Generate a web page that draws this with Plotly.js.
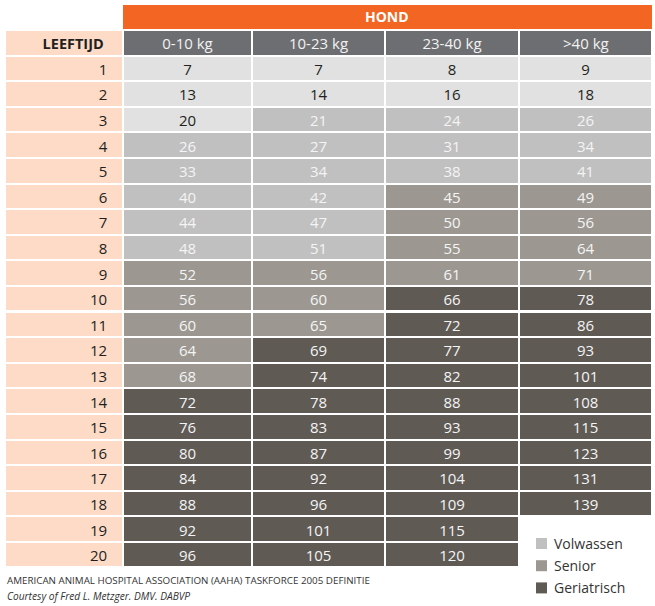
<!DOCTYPE html>
<html><head><meta charset="utf-8">
<script src="https://cdn.plot.ly/plotly-3.0.1.min.js"></script>
<style>html,body{margin:0;padding:0;background:#fff}</style>
</head><body><div id="chart" style="width:655px;height:606px"></div>
<script>
const groupTitle = "HOND";
const ageLabel = "LEEFTIJD";
const columns = ["0-10 kg", "10-23 kg", "23-40 kg", ">40 kg"];
const ages = [1,2,3,4,5,6,7,8,9,10,11,12,13,14,15,16,17,18,19,20];
const w0_10  = [7,13,20,26,33,40,44,48,52,56,60,64,68,72,76,80,84,88,92,96];
const w10_23 = [7,14,21,27,34,42,47,51,56,60,65,69,74,78,83,87,92,96,101,105];
const w23_40 = [8,16,24,31,38,45,50,55,61,66,72,77,82,88,93,99,104,109,115,120];
const w40p   = [9,18,26,34,41,49,56,64,71,78,86,93,101,108,115,123,131,139,null,null];
// stage per cell: J = jong, V = volwassen, S = senior, G = geriatrisch, "" = leeg
const stage0_10  = "JJJVVVVVSSSSSGGGGGGG".split("");
const stage10_23 = "JJVVVVVVSSSGGGGGGGGG".split("");
const stage23_40 = "JJVVVSSSSGGGGGGGGGGG".split("");
const stage40p   = ["J","J","V","V","V","S","S","S","S","G","G","G","G","G","G","G","G","G","",""];
const legendLabels = ["Volwassen", "Senior", "Geriatrisch"];
const footnote1 = "AMERICAN ANIMAL HOSPITAL ASSOCIATION (AAHA) TASKFORCE 2005 DEFINITIE";
const footnote2 = "Courtesy of Fred L. Metzger. DMV. DABVP";

const fillOf = {J:"#e1e1e1", V:"#c1c0c0", S:"#9c9891", G:"#5f5a54", "":"#ffffff"};
const textOf = {J:"#231f20", V:"#f4f4f4", S:"#f4f4f4", G:"#f4f4f4", "":"#ffffff"};
const peach = "#fddbc7";
const headGray = "#6d6e71";

const values = [w0_10, w10_23, w23_40, w40p].map(a => a.map(v => v === null ? "" : String(v)));
const stages = [stage0_10, stage10_23, stage23_40, stage40p];

// header labels containing markup characters are drawn as annotations (table would enlarge the row)
const tableHeads = columns.map(c => /[<>&]/.test(c) ? "" : c);

const W = 655, H = 606;
const pad = "\u00a0\u00a0";
const trace = {
  type: "table",
  domain: {x: [5/W, 652/W], y: [0.02, 1 - 30/H]},
  columnwidth: [118, 129, 133, 134, 133],
  header: {
    values: [ageLabel].concat(tableHeads),
    suffix: [pad + "\u00a0", "", "", "", ""],
    align: ["right","center","center","center","center"],
    height: 25.5,
    fill: {color: [peach, headGray, headGray, headGray, headGray]},
    line: {color: "#ffffff", width: 2},
    font: {family: "Open Sans, sans-serif", size: [14.5,15,15,15,15],
           color: ["#231f20","#f2f2f2","#f2f2f2","#f2f2f2","#f2f2f2"],
           weight: [700,400,400,400,400]}
  },
  cells: {
    values: [ages.map(String)].concat(values),
    suffix: [pad, "", "", "", ""],
    align: ["right","center","center","center","center"],
    height: 25.6,
    fill: {color: [ages.map(() => peach)].concat(stages.map(s => s.map(k => fillOf[k])))},
    line: {color: "#ffffff", width: 2},
    font: {family: "Open Sans, sans-serif", size: 15,
           color: [ages.map(() => "#231f20")].concat(stages.map(s => s.map(k => textOf[k])))}
  }
};

const shapes = [
  {type:"rect", xref:"paper", yref:"paper", x0:123/W, x1:652/W, y0:1-29/H, y1:1-5/H,
   fillcolor:"#f26522", line:{width:0}, layer:"below"}
];
const annotations = [
  {text:"<b>"+groupTitle+"</b>", xref:"paper", yref:"paper", x:387/W, y:1-17/H, showarrow:false,
   xanchor:"center", yanchor:"middle", font:{family:"Open Sans, sans-serif", size:14, color:"#ffffff"}},
  {text:footnote1, xref:"paper", yref:"paper", x:5/W, y:1-580/H, showarrow:false,
   xanchor:"left", yanchor:"middle", font:{family:"Open Sans, sans-serif", size:9.8, color:"#333333"}},
  {text:"<i>"+footnote2+"</i>", xref:"paper", yref:"paper", x:5/W, y:1-596/H, showarrow:false,
   xanchor:"left", yanchor:"middle", font:{family:"Open Sans, sans-serif", size:10.2, color:"#333333"}}
];
// header text for columns drawn as annotations
const colEdges = [123, 252, 385, 519, 652];
columns.forEach((c, i) => {
  if (tableHeads[i] === "") {
    annotations.push({text: c.replace(/&/g,"&amp;").replace(/</g,"&lt;").replace(/>/g,"&gt;"),
      xref:"paper", yref:"paper", x:(colEdges[i]+colEdges[i+1])/2/W, y:1-43/H, showarrow:false,
      xanchor:"center", yanchor:"middle", font:{family:"Open Sans, sans-serif", size:15, color:"#f2f2f2"}});
  }
});
const legendColors = [fillOf.V, fillOf.S, fillOf.G];
legendLabels.forEach((lab, i) => {
  const yc = 543.5 + i*22.2;
  shapes.push({type:"rect", xref:"paper", yref:"paper", x0:536/W, x1:547/W, y0:1-(yc+5.5)/H, y1:1-(yc-5.5)/H,
    fillcolor:legendColors[i], line:{width:0}});
  annotations.push({text:lab, xref:"paper", yref:"paper", x:552/W, y:1-yc/H, showarrow:false,
    xanchor:"left", yanchor:"middle", font:{family:"Open Sans, sans-serif", size:14, color:"#333333"}});
});

Plotly.newPlot("chart", [trace], {
  width: W, height: H, margin: {l:0, r:0, t:0, b:0},
  paper_bgcolor: "#ffffff", shapes: shapes, annotations: annotations
}, {displayModeBar: false, staticPlot: true});
</script></body></html>
